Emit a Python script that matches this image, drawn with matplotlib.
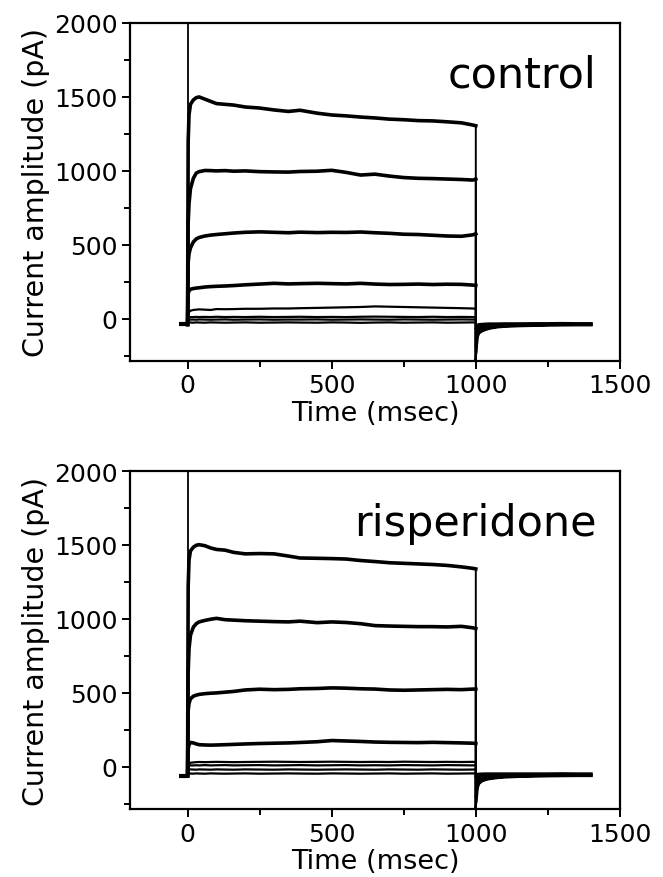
import numpy as np
import matplotlib.pyplot as plt

# ---- data (pA vs msec) ----
# sample times during the 1000 ms step
t_on = [2, 5, 10, 20, 30, 40, 60, 80, 100, 130, 160, 200, 250, 300, 350, 390,
        450, 500, 550, 600, 650, 700, 750, 800, 850, 900, 950, 990, 1000]

# control traces, largest to smallest
ctrl_1 = [1200, 1380, 1450, 1480, 1495, 1500, 1485, 1470, 1455, 1450, 1445, 1432, 1425, 1412, 1402, 1410,
          1390, 1378, 1372, 1364, 1358, 1350, 1346, 1340, 1338, 1332, 1325, 1310, 1305]
ctrl_2 = [650, 780, 880, 950, 985, 995, 1003, 1002, 1000, 1002, 998, 1000, 995, 993, 992, 996,
          998, 1004, 990, 972, 978, 965, 955, 950, 948, 945, 942, 938, 945]
ctrl_3 = [380, 440, 480, 520, 540, 550, 560, 566, 570, 575, 580, 585, 588, 585, 582, 586,
          583, 585, 584, 587, 582, 578, 572, 570, 565, 560, 558, 568, 575]
ctrl_4 = [170, 190, 200, 205, 208, 210, 215, 218, 220, 222, 225, 230, 235, 240, 236, 238,
          240, 238, 236, 240, 235, 232, 233, 235, 232, 234, 233, 228, 226]
ctrl_5 = [30, 45, 55, 60, 62, 64, 62, 60, 66, 65, 66, 68, 68, 70, 70, 72,
          74, 76, 78, 80, 84, 82, 80, 78, 76, 74, 72, 70, 68]
ctrl_6 = [5, 10, 12, 12, 13, 12, 13, 12, 14, 12, 13, 12, 14, 12, 13, 14,
          12, 13, 12, 14, 15, 14, 13, 12, 14, 12, 13, 12, 12]
ctrl_7 = [-10, -6, -5, -5, -6, -4, -5, -6, -5, -4, -6, -5, -4, -6, -5, -5,
          -4, -6, -5, -4, -5, -6, -4, -5, -6, -5, -4, -5, -5]
ctrl_8 = [-25, -24, -25, -26, -24, -25, -26, -24, -25, -26, -25, -24, -26, -25, -24, -25,
          -26, -24, -25, -27, -25, -24, -26, -25, -24, -26, -25, -24, -25]
ctrl_base = -38

# risperidone traces, largest to smallest
risp_1 = [1220, 1400, 1460, 1485, 1498, 1502, 1495, 1480, 1470, 1465, 1450, 1440, 1442, 1440, 1425, 1412,
          1410, 1408, 1405, 1395, 1388, 1380, 1376, 1372, 1368, 1362, 1352, 1342, 1338]
risp_2 = [640, 800, 890, 945, 968, 980, 990, 998, 1004, 995, 992, 988, 985, 982, 980, 985,
          975, 980, 976, 968, 955, 952, 950, 948, 948, 946, 950, 940, 935]
risp_3 = [380, 430, 460, 478, 485, 490, 495, 498, 500, 505, 510, 520, 525, 522, 524, 528,
          530, 534, 532, 528, 526, 520, 518, 520, 522, 524, 522, 526, 525]
risp_4 = [120, 150, 165, 162, 155, 150, 148, 147, 148, 150, 152, 155, 158, 160, 162, 165,
          170, 178, 175, 172, 168, 166, 165, 164, 166, 164, 162, 160, 158]
risp_5 = [10, 20, 28, 30, 32, 33, 32, 33, 34, 33, 32, 33, 34, 35, 34, 33,
          34, 35, 34, 33, 34, 33, 35, 34, 33, 34, 33, 34, 33]
risp_6 = [5, 8, 10, 10, 11, 10, 12, 10, 11, 12, 10, 11, 12, 10, 11, 12,
          10, 11, 12, 10, 11, 10, 12, 11, 10, 12, 11, 10, 11]
risp_7 = [-20, -18, -17, -18, -19, -17, -18, -19, -17, -18, -19, -17, -18, -19, -17, -18,
          -19, -18, -17, -18, -19, -17, -18, -19, -17, -18, -19, -18, -18]
risp_8 = [-45, -44, -45, -46, -44, -45, -46, -44, -45, -46, -45, -44, -46, -45, -44, -45,
          -46, -44, -45, -46, -45, -44, -46, -45, -44, -46, -45, -44, -45]
risp_base = -60

# tail currents after the step (upper and lower edge of the overlapping traces)
t_tail = [1000, 1002, 1005, 1010, 1020, 1035, 1050, 1075, 1100, 1150, 1200, 1250, 1300, 1350, 1400]
ctrl_tail_lo = [-285, -180, -120, -95, -82, -70, -62, -54, -50, -46, -44, -42, -41, -40, -40]
ctrl_tail_hi = [-285, -60, -45, -40, -38, -36, -35, -35, -34, -34, -33, -33, -32, -33, -33]
risp_tail_lo = [-285, -200, -140, -112, -95, -84, -78, -72, -68, -64, -62, -60, -59, -58, -58]
risp_tail_hi = [-285, -62, -52, -50, -49, -48, -48, -48, -48, -48, -48, -48, -47, -48, -48]

ctrl_traces = [ctrl_1, ctrl_2, ctrl_3, ctrl_4, ctrl_5, ctrl_6, ctrl_7, ctrl_8]
risp_traces = [risp_1, risp_2, risp_3, risp_4, risp_5, risp_6, risp_7, risp_8]


def draw_panel(ax, traces, base, tail_lo, tail_hi, label):
    # holding level before the step
    ax.plot([-30, 0], [base, base], color='black', lw=3, solid_capstyle='butt')
    # capacitive spike at step onset
    ax.plot([0, 0], [base, 2100], color='black', lw=1.3)
    for i, tr in enumerate(traces):
        lw = 2.6 if i < 4 else 1.6
        ax.plot([0] + t_on, [base] + tr, color='black', lw=lw)
        ax.plot([1000] + t_tail, [tr[-1]] + tail_lo, color='black', lw=1.4)
    ax.plot(t_tail[1:], tail_lo[1:], color='black', lw=2.4)
    ax.plot(t_tail[1:], tail_hi[1:], color='black', lw=2.4)
    ax.fill_between(t_tail[1:], tail_lo[1:], tail_hi[1:], color='black', lw=0)

    ax.set_xlim(-200, 1500)
    ax.set_ylim(-285, 2000)
    ax.set_xticks([0, 500, 1000, 1500])
    ax.set_xticks([250, 750, 1250], minor=True)
    ax.set_yticks([0, 500, 1000, 1500, 2000])
    ax.set_yticks([-250, 250, 750, 1250, 1750], minor=True)
    ax.tick_params(which='major', direction='out', length=6, width=1.4, labelsize=18, pad=3)
    ax.tick_params(which='minor', direction='out', length=4, width=1.4)
    for s in ax.spines.values():
        s.set_linewidth(1.6)
    ax.set_xlabel('Time (msec)', fontsize=19.5, labelpad=2)
    ax.set_ylabel('Current amplitude (pA)', fontsize=20.5, labelpad=3)
    ax.text(1420, 1650, label, fontsize=31, ha='right', va='center')


fig = plt.figure(figsize=(6.63, 8.78), dpi=100)
ax1 = fig.add_axes([0.196, 0.5877, 0.739, 0.385])
ax2 = fig.add_axes([0.196, 0.0774, 0.739, 0.385])

draw_panel(ax1, ctrl_traces, ctrl_base, ctrl_tail_lo, ctrl_tail_hi, 'control')
draw_panel(ax2, risp_traces, risp_base, risp_tail_lo, risp_tail_hi, 'risperidone')

fig.savefig('out.png', dpi=100)
